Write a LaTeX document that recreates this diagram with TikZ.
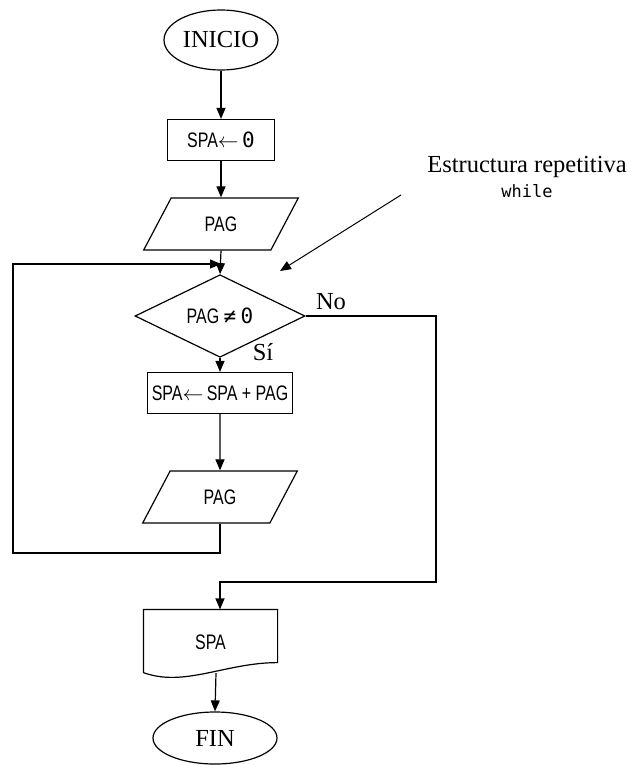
\documentclass[tikz,border=0pt]{standalone}
\usepackage{fontspec}
\setmainfont{Liberation Serif}
\setsansfont[FakeStretch=0.76]{Liberation Sans}
\setmonofont{DejaVu Sans Mono}
\usetikzlibrary{arrows.meta,shapes.geometric,calc}
\newcommand{\zro}{{\ttfamily 0}}

\begin{document}
\begin{tikzpicture}[x=1pt,y=-1pt,>={Triangle[length=11pt,width=9pt]},
  line width=1.2pt,
  serif/.style={font=\fontsize{24.5}{29}\selectfont},
  sans/.style={font=\sffamily\fontsize{21}{24}\selectfont},
  term/.style={draw,ellipse,inner sep=0pt,serif},
  proc/.style={draw,rectangle,inner sep=0pt,minimum height=41pt,sans},
  io/.style={draw,trapezium,trapezium left angle=59,trapezium right angle=121,trapezium stretches=true,
    inner sep=0pt,minimum width=155pt,minimum height=52pt,sans},
  cond/.style={draw,diamond,inner sep=0pt,minimum width=170pt,minimum height=58pt,sans},
  lab/.style={serif,inner sep=0pt}]

\useasboundingbox (0,0) rectangle (630,765);

%% start and first steps
\node[term,minimum width=114pt,minimum height=60pt] (inicio) at (221,40) {INICIO};
\node[proc,minimum width=107pt] (ini) at (221,140) {SPA\ensuremath{\leftarrow}\,\zro};
\node[io] (pag1) at (221,224) {PAG};
\coordinate (merge) at (221,264);

%% loop
\node[cond] (test) at (220,316) {PAG {\ttfamily ≠} \zro};
\node[lab] (no) at (331,302) {No};
\node[lab] (si) at (263,352) {Sí};
\node[proc,minimum width=145pt] (suma) at (220,393) {SPA\ensuremath{\leftarrow}\,SPA + PAG};
\node[io] (pag2) at (220,497) {PAG};
\coordinate (loopL) at (13,553);
\coordinate (exitR) at (436,582);

%% output and end
\node[minimum width=133pt,minimum height=64pt,inner sep=0pt,sans] (doc) at (210.5,642) {SPA};
\draw (doc.north west) -- (doc.north east) -- ($(doc.south east)+(0,-12)$)
  .. controls ($(doc.south east)+(-52,-12)$) and ($(doc.south west)+(41,13)$) .. ($(doc.south west)+(0,-2)$) -- cycle;
\coordinate (docbot) at (216,673);
\node[term,minimum width=124pt,minimum height=52pt] (fin) at (215,738) {FIN};

%% note
\node[lab,align=center] (note) at (527,177) {Estructura repetitiva\\[-4pt]{\ttfamily\fontsize{17}{20}\selectfont while}};
\coordinate (ntail) at (401,195);
\coordinate (nhead) at (280,271);

%% arrows
\draw[->] (inicio.south) -- (ini.north);
\draw[->] (ini.south) -- (pag1.north -| ini.south);
\draw[->] (pag1.south) -- (test.north);
\draw[->] (test.south) -- (suma.north);
\draw[->] (suma.south) -- (pag2.north);
\draw[->] (pag2.south) |- (loopL) |- (merge);
\draw[->] (test.east) -| (exitR) -| (doc.north -| pag2.south);
\draw[->] (docbot) -- (fin.north);
\draw[->,line width=1pt] (ntail) -- (nhead);
\end{tikzpicture}
\end{document}
